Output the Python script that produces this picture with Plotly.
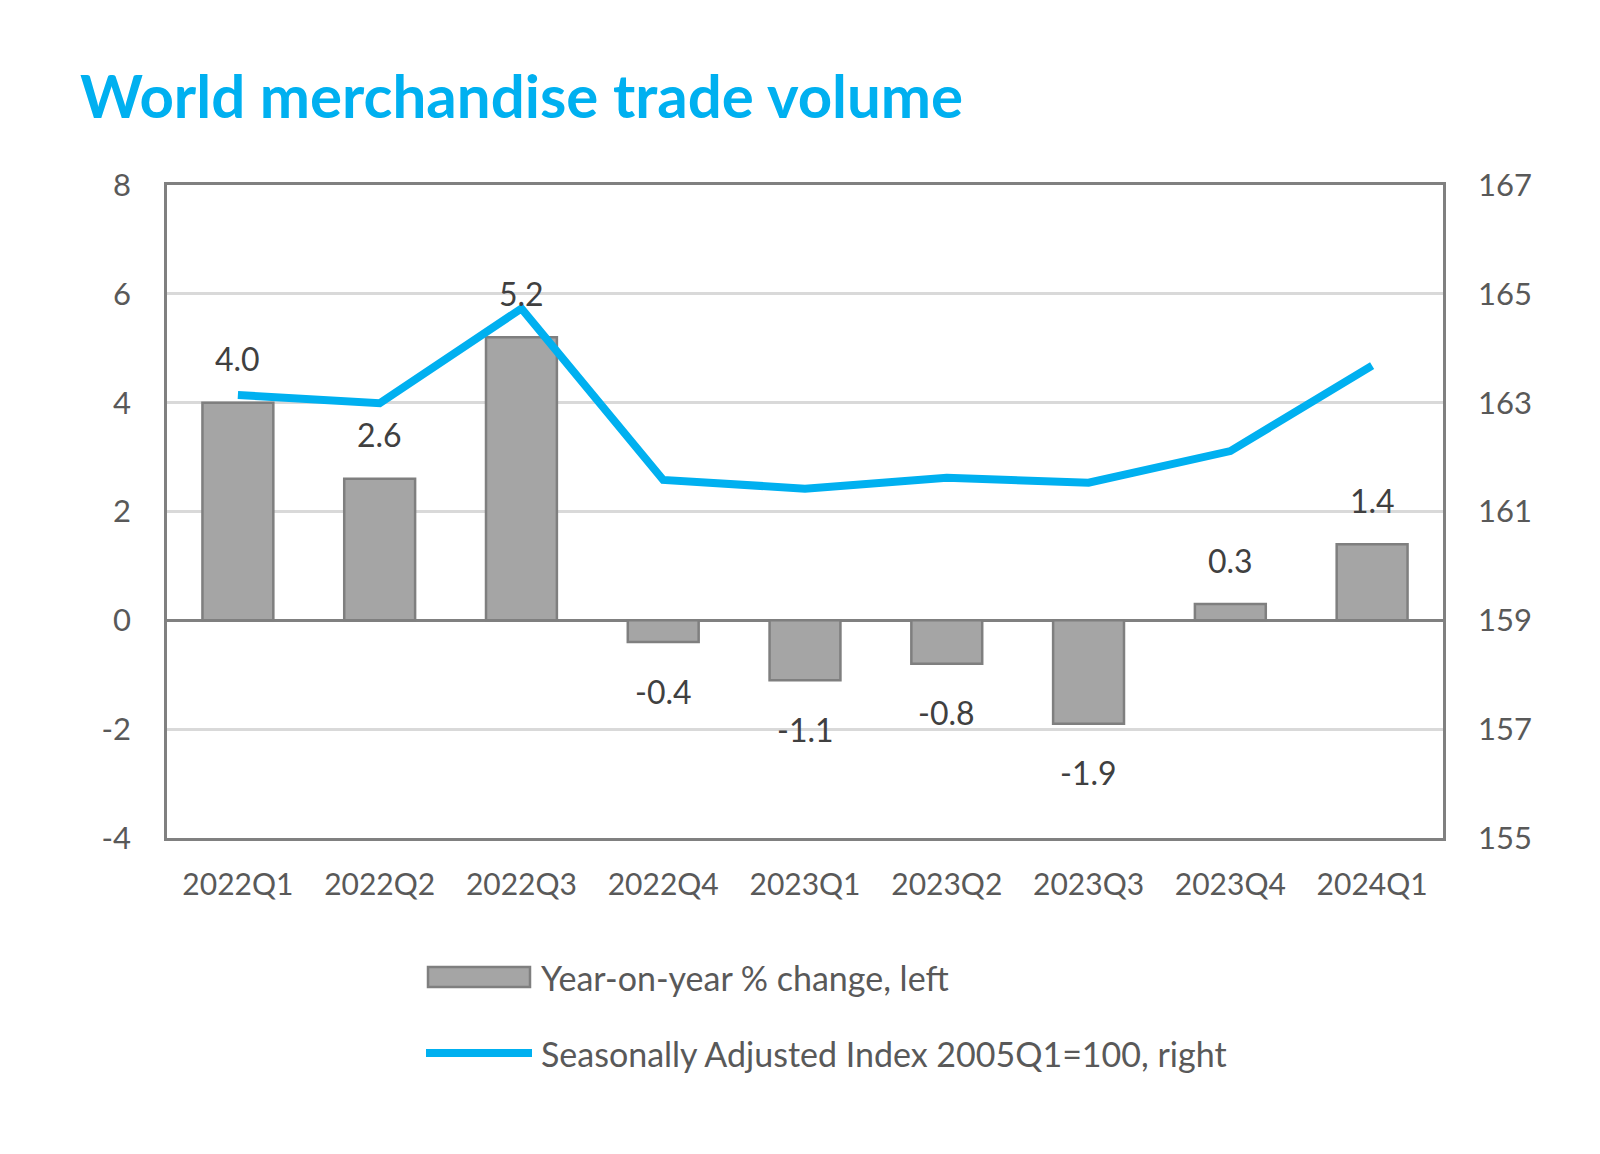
import plotly.graph_objects as go

categories = ["2022Q1", "2022Q2", "2022Q3", "2022Q4", "2023Q1", "2023Q2", "2023Q3", "2023Q4", "2024Q1"]
yoy_change = [4.0, 2.6, 5.2, -0.4, -1.1, -0.8, -1.9, 0.3, 1.4]
sa_index = [163.14, 162.99, 164.73, 161.58, 161.42, 161.62, 161.53, 162.11, 163.68]
left_ticks = [-4, -2, 0, 2, 4, 6, 8]
left_tick_text = ["-4", "-2", "0", "2", "4", "6", "8"]
right_ticks = [155, 157, 159, 161, 163, 165, 167]

FONT = "Lato"
BLUE = "#00B0F0"
TICK_COLOR = "#595959"
LABEL_COLOR = "#404040"

fig = go.Figure()
fig.add_trace(go.Bar(
    x=categories, y=yoy_change, name="Year-on-year % change, left",
    marker=dict(color="#A5A5A5", line=dict(color="#7F7F7F", width=2.5)),
    width=0.5, yaxis="y", showlegend=False,
))
fig.add_trace(go.Scatter(
    x=categories, y=sa_index, name="Seasonally Adjusted Index 2005Q1=100, right",
    mode="lines", line=dict(color=BLUE, width=8), yaxis="y2", showlegend=False,
))

annotations = []
for c, v in zip(categories, yoy_change):
    annotations.append(dict(
        x=c, y=v, xref="x", yref="y", text=f"{v:.1f}", showarrow=False,
        yanchor="middle", yshift=44 if v >= 0 else -49,
        font=dict(family=FONT, size=32, color=LABEL_COLOR),
    ))

# plot area in page pixels
PL, PR, PT, PB = 167, 1443, 185, 838

def px_x(X):
    return (X - PL) / float(PR - PL)

def px_y(Y):
    return (PB - Y) / float(PB - PT)

shapes = [
    dict(type="rect", xref="paper", yref="paper",
         x0=px_x(428), x1=px_x(530), y0=px_y(987), y1=px_y(967),
         fillcolor="#A5A5A5", line=dict(color="#7F7F7F", width=2.5)),
    dict(type="line", xref="paper", yref="paper",
         x0=px_x(426), x1=px_x(532), y0=px_y(1053), y1=px_y(1053),
         line=dict(color=BLUE, width=8)),
]
annotations += [
    dict(x=px_x(539), y=px_y(977), xref="paper", yref="paper", xanchor="left", yanchor="middle",
         text="Year-on-year % change, left", showarrow=False,
         font=dict(family=FONT, size=34, color=TICK_COLOR)),
    dict(x=px_x(539), y=px_y(1053), xref="paper", yref="paper", xanchor="left", yanchor="middle",
         text="Seasonally Adjusted Index 2005Q1=100, right", showarrow=False,
         font=dict(family=FONT, size=34, color=TICK_COLOR)),
]

# page has 8px body margin -> compensate
OFF = 8
W, H = 1600, 1154
fig.update_layout(
    width=W, height=H,
    margin=dict(l=PL - OFF, r=W - PR + OFF, t=PT - OFF, b=H - PB + OFF, pad=0),
    paper_bgcolor="white", plot_bgcolor="white",
    title=dict(text="<b>World merchandise trade volume</b>", xref="container", yref="container",
               x=(80 - OFF) / W, xanchor="left", y=1 - (97 - OFF) / H, yanchor="middle",
               font=dict(family=FONT, size=60, color=BLUE)),
    xaxis=dict(showgrid=False, showline=True, linecolor="#808080", linewidth=2.5, mirror=True,
               ticks="", tickfont=dict(family=FONT, size=30, color=TICK_COLOR),
               ticklabelstandoff=18, zeroline=False),
    yaxis=dict(range=[-4, 8], tickvals=left_ticks, ticktext=left_tick_text,
               showgrid=True, gridcolor="#D9D9D9", gridwidth=2.5,
               zeroline=True, zerolinecolor="#808080", zerolinewidth=2.5,
               showline=True, linecolor="#808080", linewidth=2.5, mirror=True, ticks="",
               tickfont=dict(family=FONT, size=31, color=TICK_COLOR), ticklabelstandoff=27),
    yaxis2=dict(range=[155, 167], tickvals=right_ticks, overlaying="y", side="right",
                showgrid=False, zeroline=False, showline=False, ticks="",
                tickfont=dict(family=FONT, size=31, color=TICK_COLOR), ticklabelstandoff=34),
    shapes=shapes, annotations=annotations, showlegend=False,
)

fig.write_html("out.html")
